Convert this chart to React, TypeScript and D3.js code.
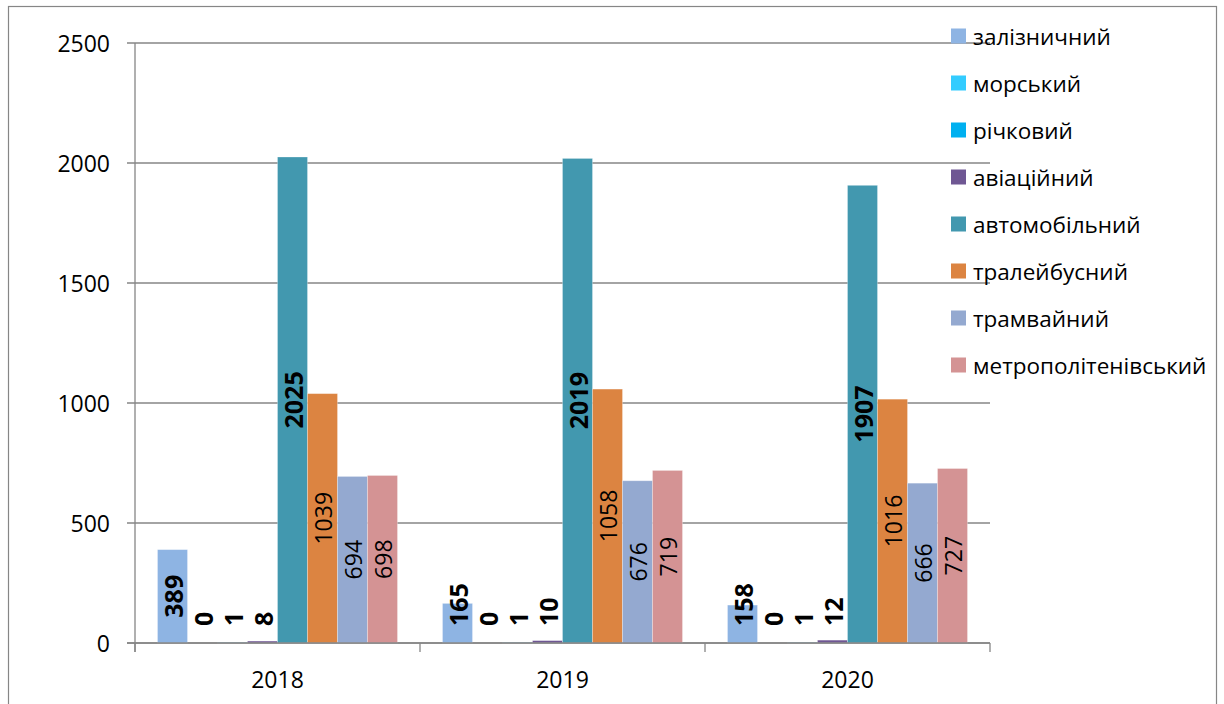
import React from "react";
import * as d3 from "d3";

const years = ["2018", "2019", "2020"];
const seriesNames = [
  "залізничний",
  "морський",
  "річковий",
  "авіаційний",
  "автомобільний",
  "тралейбусний",
  "трамвайний",
  "метрополітенівський",
];
const seriesColors = [
  "#8EB4E3",
  "#33CCFF",
  "#00B0F0",
  "#6F5793",
  "#4298AF",
  "#DC8441",
  "#94A9D0",
  "#D49394",
];
const boldLabels = [true, true, true, true, true, false, false, false];
const values2018 = [389, 0, 1, 8, 2025, 1039, 694, 698];
const values2019 = [165, 0, 1, 10, 2019, 1058, 676, 719];
const values2020 = [158, 0, 1, 12, 1907, 1016, 666, 727];
const valuesByYear = [values2018, values2019, values2020];
const yTicks = [0, 500, 1000, 1500, 2000, 2500];

const FONT = "'Open Sans', 'Liberation Sans', sans-serif";
const AXIS = "#868686";

export default function App() {
  const left = 135;
  const right = 990;
  const top = 43;
  const bottom = 643;

  const y = d3.scaleLinear().domain([0, 2500]).range([bottom, top]);
  const x0 = d3.scaleBand<string>().domain(years).range([left, right]).paddingInner(0).paddingOuter(0);
  const x1 = d3
    .scaleBand<string>()
    .domain(seriesNames)
    .range([0, x0.bandwidth()])
    .paddingInner(0)
    .paddingOuter(0.75);

  const labelLimit = bottom - 17;

  return (
    <svg
      width={1224}
      height={704}
      style={{ position: "absolute", left: 0, top: 0, background: "#fff" }}
      fontFamily={FONT}
    >
      <rect x={8.5} y={6.5} width={1208} height={720} fill="#fff" stroke={AXIS} strokeWidth={1.2} />

      {/* gridlines */}
      {yTicks.map((t) => (
        <line key={"g" + t} x1={left - 8} x2={right} y1={y(t)} y2={y(t)} stroke={AXIS} strokeWidth={1.3} />
      ))}

      {/* bars */}
      {years.map((yr, yi) => (
        <g key={yr} transform={`translate(${x0(yr)},0)`}>
          {seriesNames.map((s, si) => {
            const v = valuesByYear[yi][si];
            return (
              <rect
                key={s}
                x={x1(s)}
                y={y(v)}
                width={x1.bandwidth()}
                height={Math.max(0, bottom - y(v))}
                fill={seriesColors[si]}
                stroke="#ffffff"
                strokeOpacity={0.35}
                strokeWidth={0.8}
              />
            );
          })}
        </g>
      ))}

      {/* axes */}
      <line x1={left} x2={left} y1={top} y2={bottom + 9} stroke={AXIS} strokeWidth={1.3} />
      <line x1={left - 8} x2={right} y1={bottom} y2={bottom} stroke={AXIS} strokeWidth={1.3} />
      {[...years.map((yr) => x0(yr) as number), right].map((xx, i) => (
        <line key={"xt" + i} x1={xx} x2={xx} y1={bottom} y2={bottom + 9} stroke={AXIS} strokeWidth={1.3} />
      ))}

      {/* y tick labels */}
      {yTicks.map((t) => (
        <text
          key={"yl" + t}
          x={110}
          y={y(t)}
          textAnchor="end"
          dominantBaseline="central"
          fontSize={23}
          fill="#000"
        >
          {t}
        </text>
      ))}

      {/* x labels */}
      {years.map((yr) => (
        <text
          key={"xl" + yr}
          x={(x0(yr) as number) + x0.bandwidth() / 2}
          y={679}
          textAnchor="middle"
          dominantBaseline="central"
          fontSize={23}
          fill="#000"
        >
          {yr}
        </text>
      ))}

      {/* data labels */}
      {years.map((yr, yi) =>
        seriesNames.map((s, si) => {
          const v = valuesByYear[yi][si];
          const cx = (x0(yr) as number) + (x1(s) as number) + x1.bandwidth() / 2;
          const bold = boldLabels[si];
          const fs = bold ? 25 : 23;
          const len = String(v).length * fs * 0.57;
          const center = (y(v) + bottom) / 2;
          const startY = Math.min(center + len / 2, labelLimit);
          return (
            <text
              key={yr + s}
              transform={`translate(${cx},${startY}) rotate(-90)`}
              textAnchor="start"
              dominantBaseline="central"
              fontSize={fs}
              fontWeight={bold ? 700 : 400}
              fill="#000"
            >
              {v}
            </text>
          );
        })
      )}

      {/* legend */}
      {seriesNames.map((s, i) => {
        const cy = 36 + i * 47;
        return (
          <g key={"lg" + s}>
            <rect x={951} y={cy - 7.5} width={15} height={15} fill={seriesColors[i]} />
            <text x={973} y={cy} dominantBaseline="central" fontSize={22.5} fill="#000">
              {s}
            </text>
          </g>
        );
      })}
    </svg>
  );
}
